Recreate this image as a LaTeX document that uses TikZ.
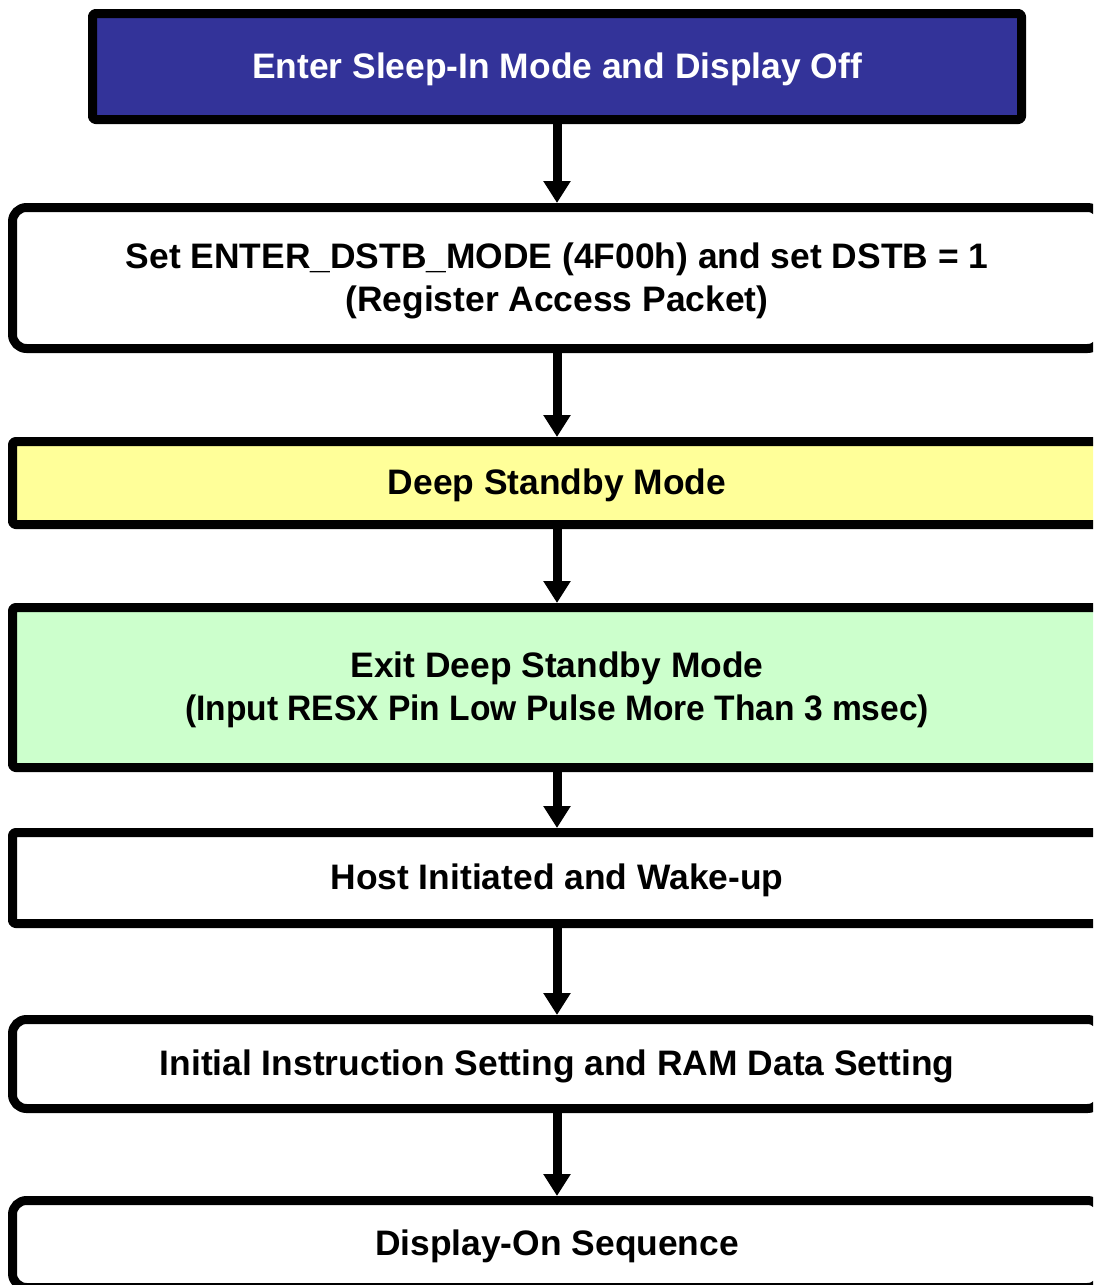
\documentclass[tikz,border=0pt]{standalone}
\usepackage{fontspec}
\usepackage{graphicx}
\setmainfont{Liberation Sans}
\usetikzlibrary{arrows.meta}
\definecolor{boxblue}{HTML}{333399}
\definecolor{boxyellow}{HTML}{FFFF99}
\definecolor{boxgreen}{HTML}{CCFFCC}
\tikzset{
  flowbox/.style={draw=black, line width=9pt, line join=round, inner sep=0pt,
    align=center, font=\fontsize{35.4}{43}\selectfont\bfseries, text=black,
    text height=32pt, text depth=8.6pt},
  twoline/.style={text height=75pt, text depth=8.6pt},
  roundbox/.style={flowbox, rounded corners=14pt},
  squarebox/.style={flowbox, rounded corners=3pt},
  flowarrow/.style={line width=9pt, -{Triangle[width=26pt,length=22pt]}}
}
\begin{document}
\begin{tikzpicture}[x=1pt,y=-1pt]
\useasboundingbox (0,0) rectangle (1093,1285);
\clip (0,0) rectangle (1093,1285);
\node[squarebox, fill=boxblue, text=white, minimum width=929pt, minimum height=106pt] (b1) at (557,66.5) {Enter Sleep-In Mode and Display Off};
\node[roundbox, twoline, fill=white, minimum width=1089pt, minimum height=141pt] (b2) at (557,278) {Set ENTER\_DSTB\_MODE (4F00h) and set DSTB = 1\\(Register Access Packet)};
\node[squarebox, fill=boxyellow, minimum width=1089pt, minimum height=83pt] (b3) at (557,483) {Deep Standby Mode};
\node[squarebox, twoline, fill=boxgreen, minimum width=1089pt, minimum height=160pt] (b4) at (557,687.5) {Exit Deep Standby Mode\\\scalebox{0.948}[1]{(Input RESX Pin Low Pulse More Than 3 msec)}};
\node[squarebox, fill=white, minimum width=1089pt, minimum height=91pt] (b5) at (557,878) {Host Initiated and Wake-up};
\node[roundbox, fill=white, minimum width=1089pt, minimum height=89pt] (b6) at (557,1064) {Initial Instruction Setting and RAM Data Setting};
\node[roundbox, fill=white, minimum width=1089pt, minimum height=87pt] (b7) at (557,1244) {Display-On Sequence};
\draw[flowarrow] (b1.south) -- (b2.north);
\draw[flowarrow] (b2.south) -- (b3.north);
\draw[flowarrow] (b3.south) -- (b4.north);
\draw[flowarrow] (b4.south) -- (b5.north);
\draw[flowarrow] (b5.south) -- (b6.north);
\draw[flowarrow] (b6.south) -- (b7.north);
\end{tikzpicture}
\end{document}
